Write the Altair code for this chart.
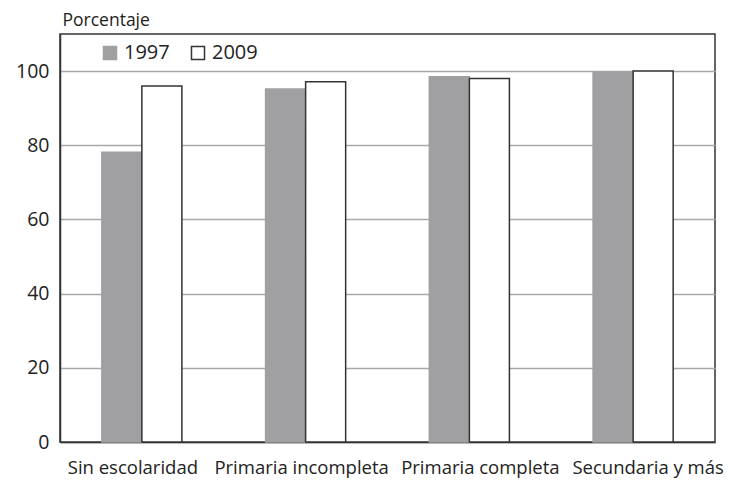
import altair as alt
import pandas as pd

categories = ["Sin escolaridad", "Primaria incompleta", "Primaria completa", "Secundaria y más"]
years = ["1997", "2009"]
values_1997 = [78.1, 95.2, 98.5, 99.7]
values_2009 = [96.0, 97.1, 98.0, 100.0]
label_shift = [-9, -4, 11, 15]

rows = []
for c, a, b in zip(categories, values_1997, values_2009):
    rows.append({"cat": c, "year": "1997", "value": a})
    rows.append({"cat": c, "year": "2009", "value": b})
df = pd.DataFrame(rows)

FONT = "Open Sans"
TXT = "#222222"

legend = alt.Legend(title=None, orient="none", legendX=40, legendY=9, direction="horizontal",
                    symbolType="square", symbolSize=170, symbolStrokeWidth=1.5,
                    labelFontSize=20, labelFont=FONT, labelColor=TXT, columnPadding=18,
                    labelOffset=4)

offset_cond = {
    "condition": [{"test": f"datum.value === '{c}'", "value": s} for c, s in zip(categories, label_shift)],
    "value": 0,
}

bars = alt.Chart(df).mark_bar(strokeWidth=1.5).encode(
    x=alt.X("cat:N", sort=categories, title=None,
            scale=alt.Scale(paddingInner=0.511, paddingOuter=0.2555),
            axis=alt.Axis(labelAngle=0, labelFontSize=18.5, labelPadding=16, ticks=False,
                          labelOffset=offset_cond,
                          labelColor=TXT, labelFont=FONT, domainColor="#333333", domainWidth=1.5)),
    xOffset=alt.XOffset("year:N", sort=years, scale=alt.Scale(paddingInner=0, paddingOuter=0)),
    y=alt.Y("value:Q", scale=alt.Scale(domain=[0, 110], nice=False),
            axis=alt.Axis(values=[0, 20, 40, 60, 80, 100], title="Porcentaje", titleAngle=0,
                          titleAlign="left", titleBaseline="alphabetic", titleX=2, titleY=-9,
                          titleFont=FONT, titleFontSize=17.5, titleFontWeight="normal", titleColor=TXT,
                          labelFontSize=19.5, labelPadding=11, ticks=False, labelColor=TXT, labelFont=FONT,
                          gridColor="#a8a8a8", gridWidth=1.5, domainColor="#333333", domainWidth=1.5)),
    fill=alt.Fill("year:N", sort=years, scale=alt.Scale(domain=years, range=["#a0a0a2", "#ffffff"]),
                  legend=legend),
    stroke=alt.Stroke("year:N", sort=years, scale=alt.Scale(domain=years, range=["#a0a0a2", "#333333"]),
                      legend=legend),
).properties(width=655, height=408)

chart = bars.properties(
    autosize=alt.AutoSizeParams(type="none"),
    padding={"left": 52, "top": 26, "right": 11, "bottom": 37},
).configure_view(stroke="#333333", strokeWidth=1.5)

chart.save("out.html", embed_options={"renderer": "svg", "actions": False})
